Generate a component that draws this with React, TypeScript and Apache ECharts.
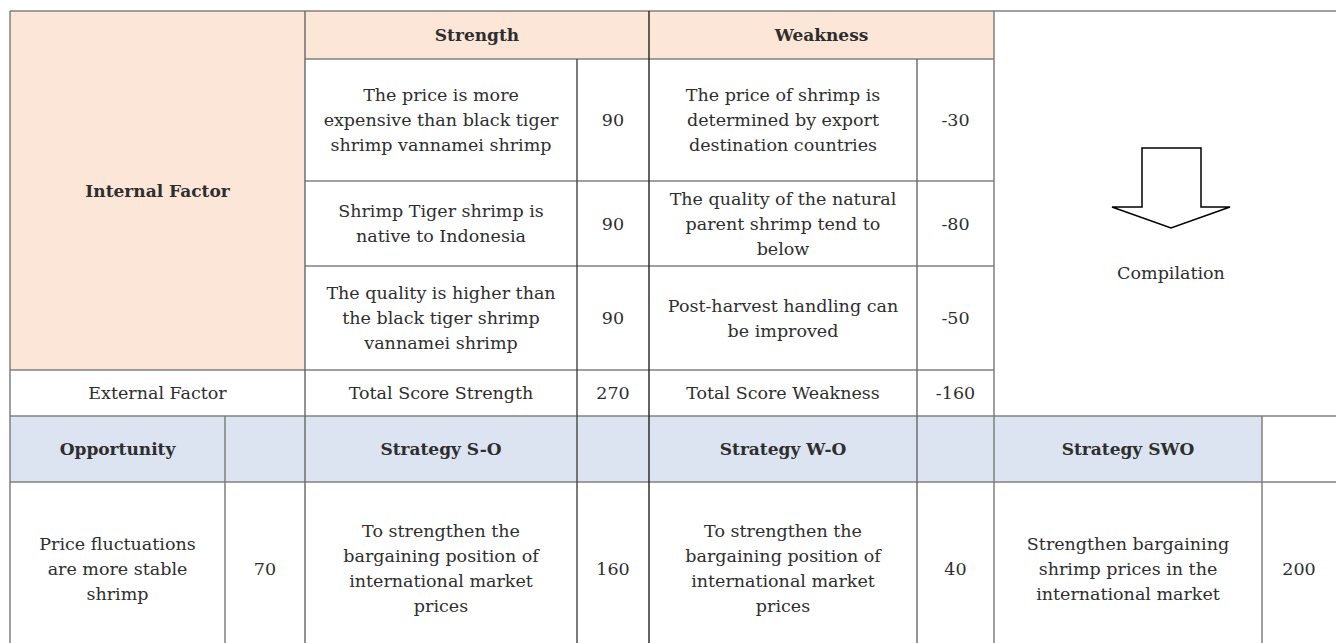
import React, { useEffect, useRef } from "react";
import * as echarts from "echarts";

// ---- Data ----
const headerInternal = "Internal Factor";
const headerExternal = "External Factor";
const headerStrength = "Strength";
const headerWeakness = "Weakness";
const compilationLabel = "Compilation";

const strengthItems = [
  "The price is more\nexpensive than black tiger\nshrimp vannamei shrimp",
  "Shrimp Tiger shrimp is\nnative to Indonesia",
  "The quality is higher than\nthe black tiger shrimp\nvannamei shrimp",
];
const strengthScores = [90, 90, 90];
const weaknessItems = [
  "The price of shrimp is\ndetermined by export\ndestination countries",
  "The quality of the natural\nparent shrimp tend to\nbelow",
  "Post-harvest handling can\nbe improved",
];
const weaknessScores = [-30, -80, -50];
const totalLabels = ["Total Score Strength", "Total Score Weakness"];
const totalScores = [270, -160];

const opportunityHeader = "Opportunity";
const opportunityItems = ["Price fluctuations\nare more stable\nshrimp"];
const opportunityScores = [70];
const strategyHeaders = ["Strategy S-O", "Strategy W-O", "Strategy SWO"];
const strategyItems = [
  "To strengthen the\nbargaining position of\ninternational market\nprices",
  "To strengthen the\nbargaining position of\ninternational market\nprices",
  "Strengthen bargaining\nshrimp prices in the\ninternational market",
];
const strategyScores = [160, 40, 200];

// ---- Layout / style ----
const PEACH = "#fbe6d8";
const BLUE = "#dbe4f0";
const TEXT = "#2e2e2e";
const FONT = "'DejaVu Serif', serif";
const FS = 17.5;
const FSB = 17;
const LH = 25;

const X = { L: 10, A: 225, B: 305, C: 577, D: 649, E: 917, F: 994, G: 1262, R: 1336 };
const rowsTop = [11, 59, 181, 266, 370, 416, 482, 655];

export default function App() {
  const ref = useRef<HTMLDivElement>(null);
  useEffect(() => {
    document.body.style.margin = "0";
    const chart = echarts.init(ref.current!, null, { renderer: "svg" });
    const els: any[] = [];
    const rect = (x0: number, x1: number, y0: number, y1: number, fill: string) =>
      els.push({ type: "rect", z: 1, shape: { x: x0, y: y0, width: x1 - x0, height: y1 - y0 }, style: { fill } });
    const hline = (y: number, x0: number, x1: number) =>
      els.push({ type: "line", z: 5, shape: { x1: x0, y1: y, x2: x1, y2: y }, style: { stroke: "#808080", lineWidth: 1.6 } });
    const vline = (x: number, y0: number, y1: number, c = "#555") =>
      els.push({ type: "line", z: 5, shape: { x1: x, y1: y0, x2: x, y2: y1 }, style: { stroke: c, lineWidth: 1.4 } });
    const txt = (x0: number, x1: number, y0: number, y1: number, t: string | number, bold = false) =>
      els.push({
        type: "text",
        z: 10,
        x: (x0 + x1) / 2,
        y: (y0 + y1) / 2,
        style: {
          text: String(t),
          textAlign: "center",
          textVerticalAlign: "middle",
          fontFamily: FONT,
          fontSize: bold ? FSB : FS,
          fontWeight: bold ? "bold" : "normal",
          lineHeight: LH,
          fill: TEXT,
        },
      });

    const [r0, r1, r2, r3, r4, r5, r6, r7] = rowsTop;
    // fills
    rect(X.L, X.B, r0, r4, PEACH);
    rect(X.B, X.F, r0, r1, PEACH);
    rect(X.L, X.G, r5, r6, BLUE);

    // horizontal lines
    hline(r0, X.L, X.R);
    [r1, r2, r3].forEach((y) => hline(y, X.B, X.F));
    hline(r4, X.L, X.F);
    hline(r5, X.L, X.R);
    hline(r6, X.L, X.R);
    // vertical lines
    vline(X.L, r0, 643, "#777");
    vline(X.B, r0, 643, "#666");
    vline(X.C, r1, 643, "#444");
    vline(X.D, r0, 643, "#222");
    vline(X.E, r1, 643, "#666");
    vline(X.F, r0, 643, "#777");
    vline(X.A, r5, 643, "#777");
    vline(X.G, r5, 643, "#777");

    // header texts
    txt(X.L, X.B, r0, r4, headerInternal, true);
    txt(X.B, X.D, r0, r1, headerStrength, true);
    txt(X.D, X.F, r0, r1, headerWeakness, true);
    const itemRows = [r1, r2, r3, r4];
    strengthItems.forEach((s, i) => {
      txt(X.B, X.C, itemRows[i], itemRows[i + 1], s);
      txt(X.C, X.D, itemRows[i], itemRows[i + 1], strengthScores[i]);
      txt(X.D, X.E, itemRows[i], itemRows[i + 1], weaknessItems[i]);
      txt(X.E, X.F, itemRows[i], itemRows[i + 1], weaknessScores[i]);
    });
    txt(X.L, X.B, r4, r5, headerExternal);
    txt(X.B, X.C, r4, r5, totalLabels[0]);
    txt(X.C, X.D, r4, r5, totalScores[0]);
    txt(X.D, X.E, r4, r5, totalLabels[1]);
    txt(X.E, X.F, r4, r5, totalScores[1]);

    // compilation arrow
    els.push({
      type: "polygon",
      z: 6,
      shape: {
        points: [
          [1142, 148], [1201, 148], [1201, 207], [1230, 207], [1171, 228], [1112, 207], [1142, 207],
        ],
      },
      style: { fill: "#fff", stroke: "#000", lineWidth: 1.5 },
    });
    els.push({
      type: "text",
      z: 10,
      x: 1171,
      y: 273,
      style: { text: compilationLabel, textAlign: "center", textVerticalAlign: "middle", fontFamily: FONT, fontSize: FS, fill: TEXT },
    });

    // bottom part
    txt(X.L, X.A, r5, r6, opportunityHeader, true);
    txt(X.B, X.C, r5, r6, strategyHeaders[0], true);
    txt(X.D, X.E, r5, r6, strategyHeaders[1], true);
    txt(X.F, X.G, r5, r6, strategyHeaders[2], true);
    txt(X.L, X.A, r6, r7, opportunityItems[0]);
    txt(X.A, X.B, r6, r7, opportunityScores[0]);
    txt(X.B, X.C, r6, r7, strategyItems[0]);
    txt(X.C, X.D, r6, r7, strategyScores[0]);
    txt(X.D, X.E, r6, r7, strategyItems[1]);
    txt(X.E, X.F, r6, r7, strategyScores[1]);
    txt(X.F, X.G, r6, r7, strategyItems[2]);
    txt(X.G, X.R, r6, r7, strategyScores[2]);

    chart.setOption({ animation: false, backgroundColor: "#fff", graphic: { elements: els } });
    return () => chart.dispose();
  }, []);
  return <div ref={ref} style={{ width: 1336, height: 643 }} />;
}
